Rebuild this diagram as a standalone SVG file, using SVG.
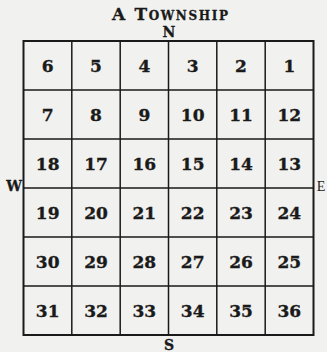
<svg xmlns="http://www.w3.org/2000/svg" width="327" height="352" viewBox="0 0 327 352">
<style>
.t{font-family:"DejaVu Serif","Liberation Serif",serif;font-weight:bold;fill:#1a1a1a;stroke:#1a1a1a;stroke-width:0.3}
.n{font-family:"DejaVu Serif","Liberation Serif",serif;font-weight:bold;font-size:17px;fill:#1a1a1a;stroke:#1a1a1a;stroke-width:0.35;text-anchor:middle}
.g{stroke:#1a1a1a;fill:none}
</style>
<rect width="327" height="352" fill="#f1f1ef"/>
<text class="t" x="112" y="20" font-size="17" textLength="116" lengthAdjust="spacing">A T<tspan font-size="12">OWNSHIP</tspan></text>
<text class="t" x="169" y="37" font-size="14" text-anchor="middle">N</text>
<text class="t" x="169" y="350" font-size="14" text-anchor="middle">S</text>
<text class="t" x="14" y="191" font-size="14" text-anchor="middle">W</text>
<text x="321" y="191" font-size="14" text-anchor="middle" font-family="Liberation Serif,serif" fill="#1a1a1a">E</text>
<g id="connectors" class="g">
<rect x="23.5" y="41" width="290" height="294" stroke-width="2"/>
<path stroke-width="1.5" d="M71.8 41V335M120.2 41V335M168.5 41V335M216.8 41V335M265.2 41V335M23.5 90H313.5M23.5 139H313.5M23.5 188H313.5M23.5 237H313.5M23.5 286H313.5"/>
</g>
<g id="r1">
<text class="n" x="47.7" y="72">6</text><text class="n" x="96" y="72">5</text><text class="n" x="144.3" y="72">4</text><text class="n" x="192.7" y="72">3</text><text class="n" x="241" y="72">2</text><text class="n" x="289.3" y="72">1</text>
</g>
<g id="r2">
<text class="n" x="47.7" y="121">7</text><text class="n" x="96" y="121">8</text><text class="n" x="144.3" y="121">9</text><text class="n" x="192.7" y="121">10</text><text class="n" x="241" y="121">11</text><text class="n" x="289.3" y="121">12</text>
</g>
<g id="r3">
<text class="n" x="47.7" y="170">18</text><text class="n" x="96" y="170">17</text><text class="n" x="144.3" y="170">16</text><text class="n" x="192.7" y="170">15</text><text class="n" x="241" y="170">14</text><text class="n" x="289.3" y="170">13</text>
</g>
<g id="r4">
<text class="n" x="47.7" y="219">19</text><text class="n" x="96" y="219">20</text><text class="n" x="144.3" y="219">21</text><text class="n" x="192.7" y="219">22</text><text class="n" x="241" y="219">23</text><text class="n" x="289.3" y="219">24</text>
</g>
<g id="r5">
<text class="n" x="47.7" y="268">30</text><text class="n" x="96" y="268">29</text><text class="n" x="144.3" y="268">28</text><text class="n" x="192.7" y="268">27</text><text class="n" x="241" y="268">26</text><text class="n" x="289.3" y="268">25</text>
</g>
<g id="r6">
<text class="n" x="47.7" y="317">31</text><text class="n" x="96" y="317">32</text><text class="n" x="144.3" y="317">33</text><text class="n" x="192.7" y="317">34</text><text class="n" x="241" y="317">35</text><text class="n" x="289.3" y="317">36</text>
</g>
</svg>
